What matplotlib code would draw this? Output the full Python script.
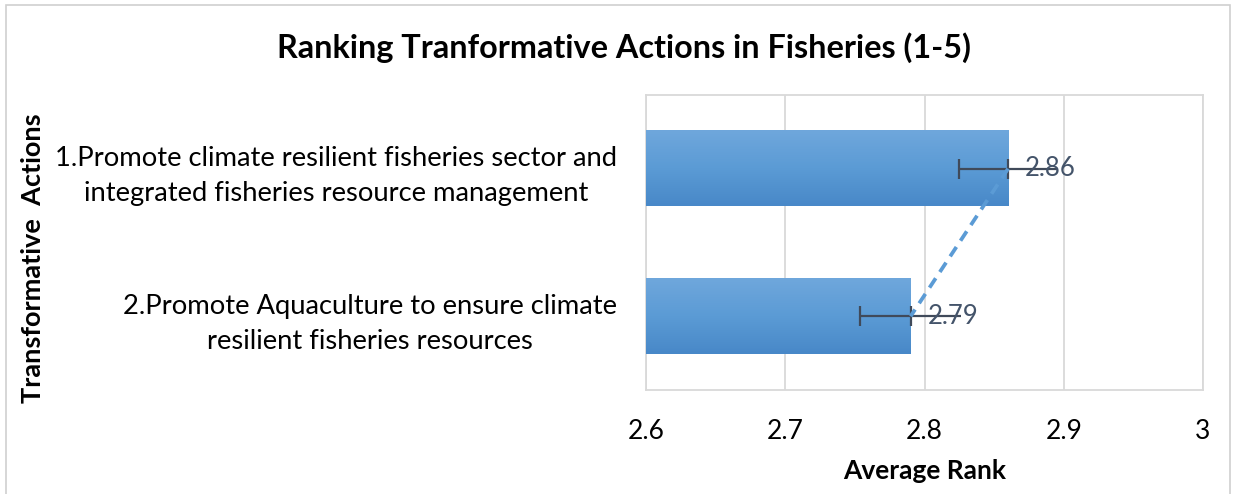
import numpy as np
import matplotlib.pyplot as plt
from matplotlib.patches import Rectangle
from matplotlib.colors import LinearSegmentedColormap

# data
actions = ['1.Promote climate resilient fisheries sector and\nintegrated fisheries resource management',
           '2.Promote Aquaculture to ensure climate\nresilient fisheries resources']
avg_rank = [2.86, 2.79]
err = [0.035, 0.036]
xticks = [2.6, 2.7, 2.8, 2.9, 3.0]
xtick_labels = ['2.6', '2.7', '2.8', '2.9', '3']

plt.rcParams['font.family'] = ['Lato', 'DejaVu Sans']

fig = plt.figure(figsize=(12.36, 4.94), dpi=100)
ax = fig.add_axes([0.5227, 0.2105, 0.4506, 0.5972])

y = np.arange(len(actions))
bar_h = 0.51
bars = ax.barh(y, avg_rank, height=bar_h, color='#5B9BD5', zorder=2)

# vertical gradient inside each bar
grad = np.linspace(0, 1, 100).reshape(-1, 1)
cmap = LinearSegmentedColormap.from_list('g', ['#6FA7DC', '#5B9BD5', '#4888C8'])
for b in bars:
    yc = b.get_y()
    ax.imshow(grad, cmap=cmap, aspect='auto', zorder=3,
              extent=[2.6, b.get_width(), yc + bar_h, yc], origin='upper')
    b.set_alpha(0)

# error bars: cap only shows on the left side, right side runs under the label
ax.errorbar(avg_rank, y, xerr=[err, [0] * len(err)], fmt='none', ecolor='#404A5A',
            elinewidth=1.6, capsize=7, capthick=1.6, zorder=4)
ax.errorbar(avg_rank, y, xerr=[[0] * len(err), err], fmt='none', ecolor='#404A5A',
            elinewidth=1.6, capsize=0, zorder=4)

# dashed line joining the bar ends
ax.plot(avg_rank, y, linestyle=(0, (3, 2)), color='#5B9BD5', linewidth=2.7, zorder=5)

for v, yy in zip(avg_rank, y):
    ax.text(v + 0.012, yy, f'{v:.2f}', va='center', ha='left', fontsize=18.5,
            color='#44546A', zorder=6)

ax.set_xlim(2.6, 3.0)
ax.set_ylim(len(actions) - 0.5, -0.5)
ax.set_xticks(xticks)
ax.set_xticklabels(xtick_labels, fontsize=19)
ax.set_yticks(y)
ax.set_yticklabels(actions, fontsize=19.7, multialignment='center', linespacing=1.5)
ax.tick_params(axis='both', length=0)
ax.tick_params(axis='x', pad=21)
ax.tick_params(axis='y', pad=21)
ax.grid(axis='x', color='#D9D9D9', linewidth=1.3, zorder=0)
for s in ax.spines.values():
    s.set_color('#D9D9D9')
    s.set_linewidth(1.3)

ax.set_xlabel('Average Rank', fontsize=19, fontweight='bold', labelpad=11)
fig.text(0.027, 0.478, 'Transformative  Actions', rotation=90, fontsize=19.5,
         fontweight='bold', ha='center', va='center')
fig.text(0.505, 0.903, 'Ranking Tranformative Actions in Fisheries (1-5)',
         fontsize=23.3, fontweight='bold', ha='center', va='center')

# chart border
fig.patches.append(Rectangle((0.005, -0.01), 0.99, 1.0, transform=fig.transFigure,
                             fill=False, edgecolor='#D0D0D0', linewidth=1.2))

fig.savefig('out.png', dpi=100)
